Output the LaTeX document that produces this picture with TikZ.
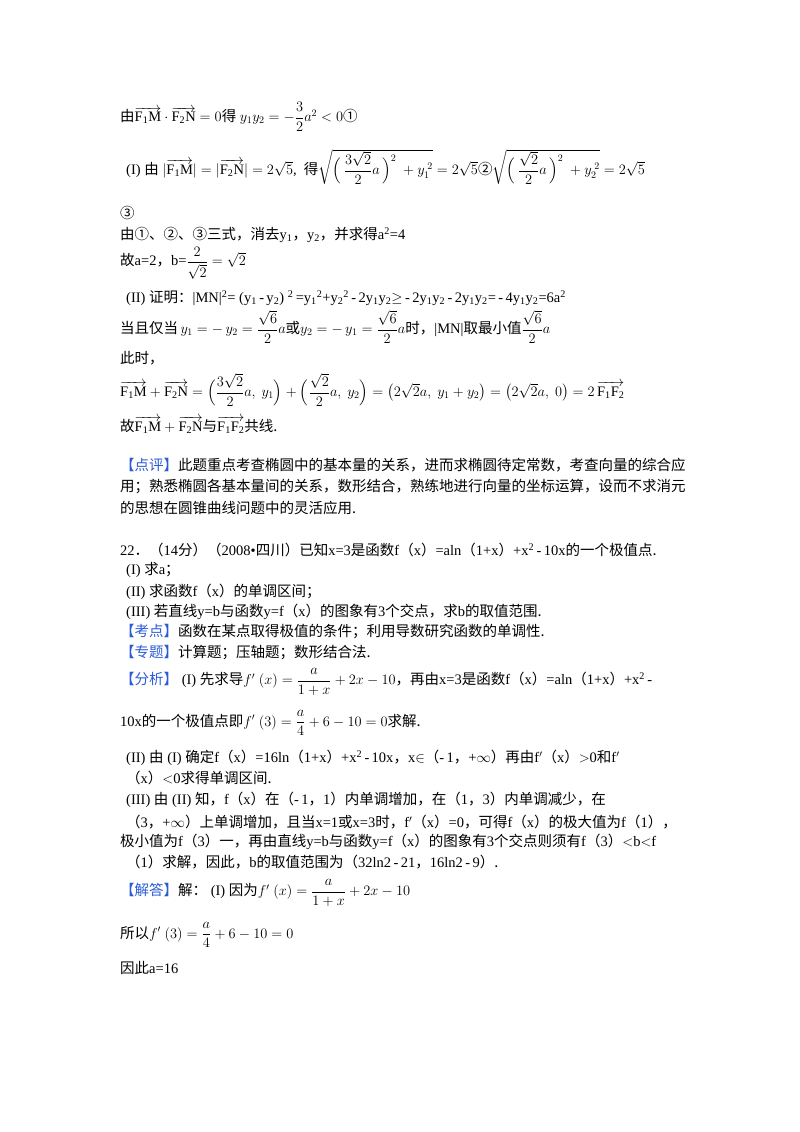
\documentclass[tikz,border=0pt]{standalone}
\usepackage{fontspec}
\usepackage{amsmath}
\setmainfont{Liberation Serif}
\newfontfamily\cjk{Noto Sans CJK SC}
\newcommand{\z}[1]{{\cjk #1}}
\definecolor{tagblue}{HTML}{2B5CD8}
\newcommand{\tagb}[1]{{\cjk\color{tagblue}【#1】}}
\newcommand{\vc}[1]{\overrightarrow{\mathrm{#1}}}
\begin{document}
\begin{tikzpicture}[x=1pt,y=-1pt,
  ln/.style={anchor=west,inner sep=0pt,font=\fontsize{14.5}{17}\selectfont}]
\useasboundingbox (0,0) rectangle (800,1132);
\fill[white] (0,0) rectangle (800,1132);
\node[ln] (l1) at (120,117) {\z{由}$\vc{F_1M}\cdot\vc{F_2N}=0$\z{得}$\ y_1y_2=-\dfrac{3}{2}a^2<0$\z{①}};
\node[ln] (l2) at (126,167) {(I)\ \z{由}\ $|\vc{F_1M}|=|\vc{F_2N}|=2\sqrt5$,\ \ \z{得}$\sqrt{\Big(\,\dfrac{3\sqrt2}{2}a\,\Big)^{2}\ +y_1^{\;2}}=2\sqrt5$\z{②}$\sqrt{\Big(\,\dfrac{\sqrt2}{2}a\,\Big)^{2}\ +y_2^{\;2}}=2\sqrt5$};
\node[ln] (l3) at (120,213) {\z{③}};
\node[ln] (l4) at (120,235) {\z{由①、②、③三式，消去}y\textsubscript{1}\z{，}y\textsubscript{2}\z{，并求得}a\textsuperscript{2}=4};
\node[ln] (l5) at (120,263) {\z{故}a=2\z{，}b=$\dfrac{2}{\sqrt2}=\sqrt2$};
\node[ln] (l6) at (126,298) {(II)\ \z{证明：}|MN|\textsuperscript{2}=\ (y\textsubscript{1}\,-\,y\textsubscript{2})\ \textsuperscript{2}\,=y\textsubscript{1}\textsuperscript{2}+y\textsubscript{2}\textsuperscript{2}\,-\,2y\textsubscript{1}y\textsubscript{2}$\geq$\,-\,2y\textsubscript{1}y\textsubscript{2}\,-\,2y\textsubscript{1}y\textsubscript{2}=\,-\,4y\textsubscript{1}y\textsubscript{2}=6a\textsuperscript{2}};
\node[ln] (l7) at (120,327) {\z{当且仅当}$\,y_1=-\,y_2=\dfrac{\sqrt6}{2}a$\z{或}$y_2=-\,y_1=\dfrac{\sqrt6}{2}a$\z{时，}|MN|\z{取最小值}$\dfrac{\sqrt6}{2}a$};
\node[ln] (l8) at (120,358) {\z{此时，}};
\node[ln] (l9) at (120,390) {$\vc{F_1M}+\vc{F_2N}=\Big(\dfrac{3\sqrt2}{2}a,\ y_1\Big)+\Big(\dfrac{\sqrt2}{2}a,\ y_2\Big)=\big(2\sqrt2a,\ y_1+y_2\big)=\big(2\sqrt2a,\ 0\big)=2\,\vc{F_1F_2}$};
\node[ln] (l10) at (120,425) {\z{故}$\vc{F_1M}+\vc{F_2N}$\z{与}$\vc{F_1F_2}$\z{共线.}};
\node[ln] (l11) at (120,465) {\tagb{点评}\z{此题重点考查椭圆中的基本量的关系，进而求椭圆待定常数，考查向量的综合应}};
\node[ln] (l12) at (120,487) {\z{用；熟悉椭圆各基本量间的关系，数形结合，熟练地进行向量的坐标运算，设而不求消元}};
\node[ln] (l13) at (120,508) {\z{的思想在圆锥曲线问题中的灵活应用.}};
\node[ln] (l14) at (120,550) {22{\cjk ．}\z{（}14\z{分）（}2008\textbullet\z{四川）已知}x=3\z{是函数}f\z{（}x\z{）}=aln\z{（}1+x\z{）}+x\textsuperscript{2}\,-\,10x\z{的一个极值点.}};
\node[ln] (l15) at (126,570) {(I)\ \z{求}a\z{；}};
\node[ln] (l16) at (126,592) {(II)\ \z{求函数}f\z{（}x\z{）的单调区间；}};
\node[ln] (l17) at (126,612) {(III)\ \z{若直线}y=b\z{与函数}y=f\z{（}x\z{）的图象有}3\z{个交点，求}b\z{的取值范围.}};
\node[ln] (l18) at (120,632) {\tagb{考点}\z{函数在某点取得极值的条件；利用导数研究函数的单调性.}};
\node[ln] (l19) at (120,653) {\tagb{专题}\z{计算题；压轴题；数形结合法.}};
\node[ln] (l20) at (120,682) {\tagb{分析}\ (I)\ \z{先求导}$f'\ (x)=\dfrac{a}{1+x}+2x-10$\z{，再由}x=3\z{是函数}f\z{（}x\z{）}=aln\z{（}1+x\z{）}+x\textsuperscript{2}\,-};
\node[ln] (l21) at (120,723) {10x\z{的一个极值点即}$f'\ (3)=\dfrac{a}{4}+6-10=0$\z{求解.}};
\node[ln] (l22) at (126,758) {(II)\ \z{由}\ (I)\ \z{确定}f\z{（}x\z{）}=16ln\z{（}1+x\z{）}+x\textsuperscript{2}\,-\,10x\z{，}x$\in$\z{（}-\,1\z{，}+$\infty$\z{）再由}f$'$\z{（}x\z{）}$>$0\z{和}f$'$};
\node[ln] (l23) at (126,778) {\z{（}x\z{）}$<$0\z{求得单调区间.}};
\node[ln] (l24) at (126,800) {(III)\ \z{由}\ (II)\ \z{知，}f\z{（}x\z{）在（}-\,1\z{，}1\z{）内单调增加，在（}1\z{，}3\z{）内单调减少，在}};
\node[ln] (l25) at (126,822) {\z{（}3\z{，}+$\infty$\z{）上单调增加，且当}x=1\z{或}x=3\z{时，}f$'$\z{（}x\z{）}=0\z{，可得}f\z{（}x\z{）的极大值为}f\z{（}1\z{），}};
\node[ln] (l26) at (120,842) {\z{极小值为}f\z{（}3\z{）一，再由直线}y=b\z{与函数}y=f\z{（}x\z{）的图象有}3\z{个交点则须有}f\z{（}3\z{）}$<$b$<$f};
\node[ln] (l27) at (126,862) {\z{（}1\z{）求解，因此，}b\z{的取值范围为（}32ln2\,-\,21\z{，}16ln2\,-\,9\z{）.}};
\node[ln] (l28) at (120,893) {\tagb{解答}\z{解：}\ (I)\ \z{因为}$f'\ (x)=\dfrac{a}{1+x}+2x-10$};
\node[ln] (l29) at (120,935) {\z{所以}$f'\ (3)=\dfrac{a}{4}+6-10=0$};
\node[ln] (l30) at (120,968) {\z{因此}a=16};
\end{tikzpicture}
\end{document}
